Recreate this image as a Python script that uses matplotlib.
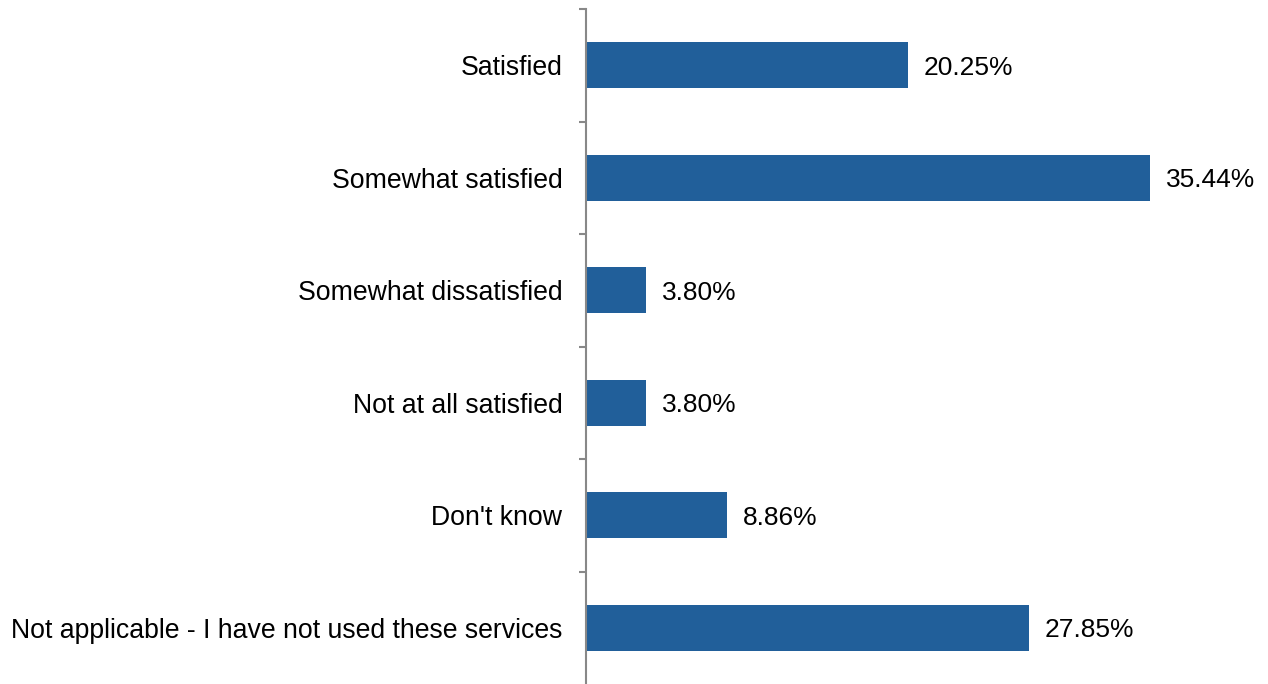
import numpy as np
import matplotlib.pyplot as plt

plt.rcParams['font.family'] = ['Liberation Sans', 'DejaVu Sans']

categories = ["Satisfied", "Somewhat satisfied", "Somewhat dissatisfied",
              "Not at all satisfied", "Don't know",
              "Not applicable - I have not used these services"]
values = [20.25, 35.44, 3.80, 3.80, 8.86, 27.85]

fig = plt.figure(figsize=(12.68, 6.84), dpi=100)
ax = fig.add_axes([586 / 1268, 0, 1 - 586 / 1268, 1 - 9 / 684])

y = np.arange(len(categories))
ax.barh(y, values, height=0.41, color='#215F9A')
for yi, v in zip(y, values):
    ax.text(v + 1.0, yi, '%.2f%%' % v, va='center_baseline', ha='left',
            fontsize=19)

ax.set_xlim(0, 42.87)
ax.set_ylim(len(categories) - 0.5, -0.5)
ax.set_yticks(y)
ax.set_yticklabels(categories, fontsize=19.2)
ax.set_yticks(np.arange(-0.5, len(categories) - 1, 1.0), minor=True)
ax.tick_params(axis='y', which='major', length=0, pad=17)
ax.tick_params(axis='y', which='minor', length=5, width=1.5, color='#888888')
ax.set_xticks([])
for s in ['top', 'right', 'bottom']:
    ax.spines[s].set_visible(False)
ax.spines['left'].set_color('#888888')
ax.spines['left'].set_linewidth(1.5)

fig.savefig('out.png', dpi=100)
